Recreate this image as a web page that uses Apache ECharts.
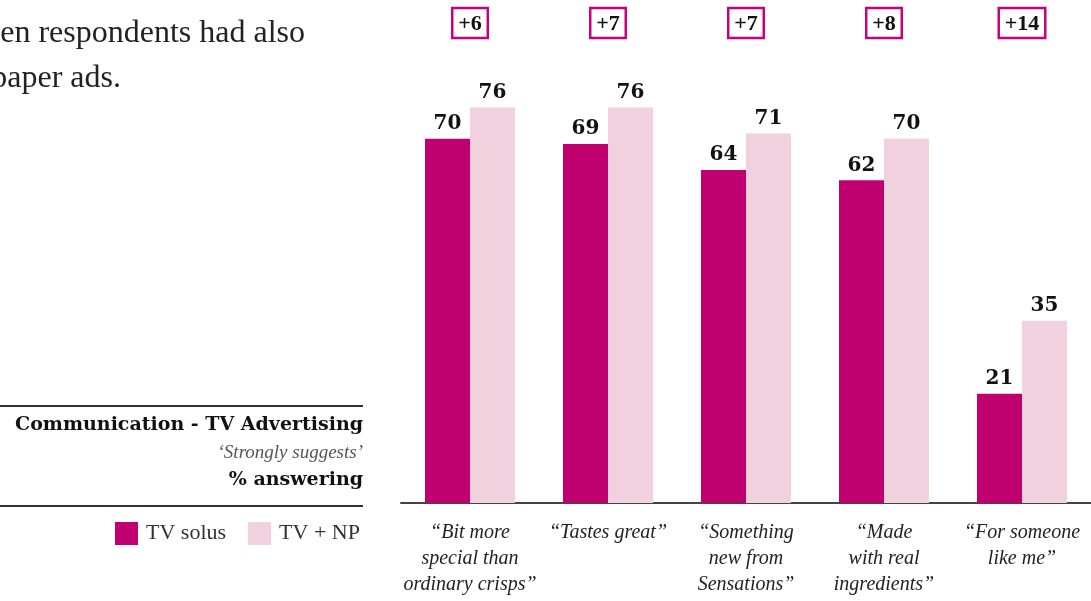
<!DOCTYPE html>
<html>
<head>
<meta charset="utf-8">
<script src="https://cdn.jsdelivr.net/npm/echarts@6/dist/echarts.min.js"></script>
<style>
  html, body { margin: 0; padding: 0; background: #fff; }
  #chart { width: 1091px; height: 601px; }
</style>
</head>
<body>
<div id="chart"></div>
<script>
// Statements tested in the communication survey
const categories = [
  '\u201cBit more\nspecial than\nordinary crisps\u201d',
  '\u201cTastes great\u201d',
  '\u201cSomething\nnew from\nSensations\u201d',
  '\u201cMade\nwith real\ningredients\u201d',
  '\u201cFor someone\nlike me\u201d'
];
// % answering "strongly suggests"
const tvSolus = [70, 69, 64, 62, 21];
const tvPlusNp = [76, 76, 71, 70, 35];
const seriesNames = ['TV solus', 'TV + NP'];

// Uplift of TV + NP over TV solus, shown in boxes above each pair
const uplift = tvPlusNp.map((v, i) => '+' + (v - tvSolus[i]));

const DARK = '#c1006f';
const LIGHT = '#f0d1dd';
const SERIF = '"Liberation Serif", "DejaVu Serif", serif';
const SERIF_BOLD = '"DejaVu Serif", "Liberation Serif", serif';

const chart = echarts.init(document.getElementById('chart'), null, { renderer: 'canvas' });

const valueLabel = {
  show: true,
  position: 'top',
  distance: 5,
  fontFamily: SERIF_BOLD,
  fontWeight: 'bold',
  fontSize: 20,
  color: '#111'
};

chart.setOption({
  animation: false,
  backgroundColor: '#fff',
  grid: { left: 401, right: -2, top: 45, bottom: 98 },
  legend: {
    left: 115,
    top: 522,
    padding: 0,
    itemWidth: 23,
    itemHeight: 23,
    itemGap: 22,
    icon: 'rect',
    textStyle: { fontFamily: SERIF, fontSize: 22, color: '#333', padding: [0, 0, 0, 3] },
    data: seriesNames
  },
  xAxis: [
    {
      type: 'category',
      data: categories,
      axisLine: { show: true, lineStyle: { color: '#444', width: 2 } },
      axisTick: { show: false },
      axisLabel: {
        interval: 0,
        margin: 17,
        fontFamily: SERIF,
        fontStyle: 'italic',
        fontSize: 20,
        lineHeight: 26,
        color: '#222',
        align: 'center'
      }
    },
    {
      type: 'category',
      position: 'top',
      data: uplift,
      axisLine: { show: false },
      axisTick: { show: false },
      axisLabel: {
        interval: 0,
        margin: 7,
        fontFamily: SERIF,
        fontWeight: 'bold',
        fontSize: 22,
        color: '#111',
        borderColor: '#c8007d',
        borderWidth: 2.5,
        padding: [5, 6, 3, 6]
      }
    }
  ],
  yAxis: {
    type: 'value',
    min: 0,
    max: 88,
    show: false,
    splitLine: { show: false }
  },
  series: [
    {
      name: seriesNames[0],
      type: 'bar',
      data: tvSolus,
      barWidth: 45,
      barGap: '0%',
      itemStyle: { color: DARK },
      label: valueLabel
    },
    {
      name: seriesNames[1],
      type: 'bar',
      data: tvPlusNp,
      barWidth: 45,
      barGap: '0%',
      itemStyle: { color: LIGHT },
      label: valueLabel
    }
  ],
  graphic: [
    // Body copy to the left of the chart (runs off the left edge)
    {
      type: 'text', right: 1091 - 305, top: 18,
      style: { text: 'then respondents had also', font: '32px ' + SERIF, fill: '#222', textAlign: 'right' }
    },
    {
      type: 'text', right: 1091 - 121, top: 63,
      style: { text: 'newspaper ads.', font: '32px ' + SERIF, fill: '#222', textAlign: 'right' }
    },
    // Chart caption block
    {
      type: 'line', shape: { x1: 0, y1: 406, x2: 363, y2: 406 },
      style: { stroke: '#333', lineWidth: 2 }
    },
    {
      type: 'text', right: 1091 - 363, top: 416,
      style: { text: 'Communication - TV Advertising', font: 'bold 19px ' + SERIF_BOLD, fill: '#111', textAlign: 'right' }
    },
    {
      type: 'text', right: 1091 - 363, top: 443,
      style: { text: '\u2018Strongly suggests\u2019', font: 'italic 19px ' + SERIF, fill: '#555', textAlign: 'right' }
    },
    {
      type: 'text', right: 1091 - 363, top: 471,
      style: { text: '% answering', font: 'bold 19px ' + SERIF_BOLD, fill: '#111', textAlign: 'right' }
    },
    {
      type: 'line', shape: { x1: 0, y1: 506, x2: 363, y2: 506 },
      style: { stroke: '#333', lineWidth: 2 }
    }
  ]
});
</script>
</body>
</html>
